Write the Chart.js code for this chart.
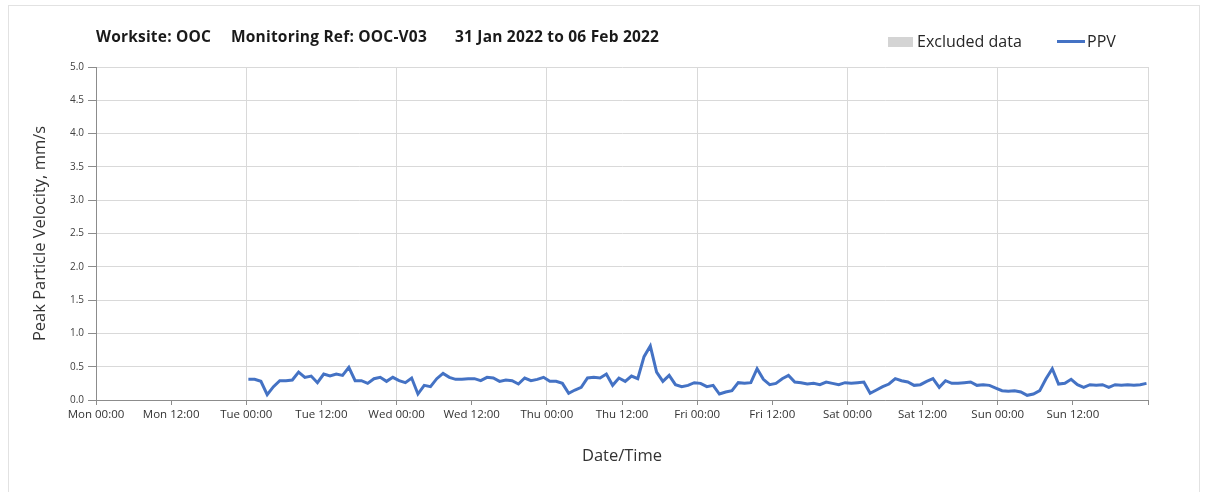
<!DOCTYPE html>
<html>
<head>
<meta charset="utf-8">
<script src="https://cdn.jsdelivr.net/npm/chart.js@4.4.1/dist/chart.umd.min.js"></script>
<style>
  html, body { margin: 0; padding: 0; background: #fff; }
  #wrap { position: relative; width: 1208px; height: 492px; overflow: hidden; font-family: "Open Sans", sans-serif; }
  #frame { position: absolute; left: 8px; top: 5px; width: 1192px; height: 540px; border: 1px solid #e2e2e2; box-sizing: border-box; }
  canvas { position: absolute; left: 0; top: 0; }
  .ttl { position: absolute; top: 26px; font-weight: bold; font-size: 15.5px; line-height: 20px; color: #1a1a1a; white-space: nowrap; letter-spacing: 0.2px; }
  .lg { position: absolute; top: 31px; font-size: 16px; line-height: 20px; color: #262626; white-space: nowrap; }
  .swatch-box { position: absolute; left: 888px; top: 37px; width: 25px; height: 10px; background: #d4d4d4; }
  .swatch-line { position: absolute; left: 1057px; top: 40px; width: 28px; height: 3px; background: #4472C4; }
</style>
</head>
<body>
<div id="wrap">
  <div id="frame"></div>
  <canvas id="chart" width="1208" height="492"></canvas>
  <div class="ttl" style="left:96px">Worksite: OOC</div>
  <div class="ttl" style="left:231px">Monitoring Ref: OOC-V03</div>
  <div class="ttl" style="left:455px">31 Jan 2022 to 06 Feb 2022</div>
  <div class="swatch-box"></div>
  <div class="lg" style="left:917px">Excluded data</div>
  <div class="swatch-line"></div>
  <div class="lg" style="left:1087px">PPV</div>
</div>
<script>
// Axis tick labels, one every 12 hours from Mon 00:00
const xTickLabels = [
  'Mon 00:00', 'Mon 12:00', 'Tue 00:00', 'Tue 12:00', 'Wed 00:00', 'Wed 12:00',
  'Thu 00:00', 'Thu 12:00', 'Fri 00:00', 'Fri 12:00', 'Sat 00:00', 'Sat 12:00',
  'Sun 00:00', 'Sun 12:00'
];
const yTickValues = [0, 0.5, 1, 1.5, 2, 2.5, 3, 3.5, 4, 4.5, 5];

// Hourly PPV readings (mm/s), first reading Tue 00:20
const firstReadingHour = 24.33;
const ppv = [
  0.31, 0.31, 0.28, 0.08, 0.20, 0.29, 0.29, 0.30, 0.42, 0.34,
  0.36, 0.26, 0.39, 0.36, 0.39, 0.37, 0.49, 0.29, 0.29, 0.25,
  0.32, 0.34, 0.28, 0.34, 0.29, 0.26, 0.33, 0.09, 0.22, 0.20,
  0.32, 0.40, 0.34, 0.31, 0.31, 0.32, 0.32, 0.29, 0.34, 0.33,
  0.28, 0.30, 0.29, 0.24, 0.33, 0.29, 0.31, 0.34, 0.28, 0.28,
  0.25, 0.10, 0.15, 0.19, 0.33, 0.34, 0.33, 0.39, 0.22, 0.33,
  0.28, 0.36, 0.32, 0.65, 0.81, 0.42, 0.28, 0.37, 0.23, 0.20,
  0.22, 0.26, 0.25, 0.20, 0.22, 0.09, 0.12, 0.14, 0.26, 0.25,
  0.26, 0.47, 0.31, 0.23, 0.25, 0.32, 0.37, 0.27, 0.26, 0.24,
  0.25, 0.23, 0.27, 0.25, 0.23, 0.26, 0.25, 0.26, 0.27, 0.10,
  0.15, 0.20, 0.24, 0.32, 0.29, 0.27, 0.22, 0.23, 0.28, 0.32,
  0.19, 0.29, 0.25, 0.25, 0.26, 0.27, 0.22, 0.23, 0.22, 0.18,
  0.14, 0.13, 0.14, 0.12, 0.07, 0.09, 0.14, 0.32, 0.47, 0.24,
  0.25, 0.31, 0.23, 0.19, 0.23, 0.22, 0.23, 0.19, 0.23, 0.22,
  0.23, 0.22, 0.23, 0.25
];

// Readings are logged every 60 min 10 s
const readingStepHours = 1.003;
const points = ppv.map((v, i) => ({ x: firstReadingHour + i * readingStepHours, y: v }));

const axisGrey = '#8c8c8c';
const gridGrey = '#d9d9d9';

new Chart(document.getElementById('chart'), {
  type: 'line',
  data: {
    datasets: [{
      label: 'PPV',
      data: points,
      borderColor: '#4472C4',
      borderWidth: 3,
      pointRadius: 0,
      tension: 0,
      fill: false
    }]
  },
  options: {
    responsive: false,
    animation: false,
    layout: { padding: { left: 26, right: 60, top: 67, bottom: 22 } },
    plugins: { legend: { display: false }, tooltip: { enabled: false } },
    scales: {
      x: {
        type: 'linear',
        min: 0,
        max: 168,
        afterBuildTicks: (s) => { s.ticks = xTickLabels.map((_, i) => ({ value: i * 12 })).concat([{ value: 168 }]); },
        ticks: {
          autoSkip: false,
          maxRotation: 0,
          minRotation: 0,
          padding: 3,
          color: '#333',
          font: { family: 'Open Sans', size: 11.5 },
          callback: (v) => xTickLabels[Math.round(v / 12)] || ''
        },
        grid: {
          color: (c) => (c.tick && c.tick.value % 24 === 0) ? gridGrey : 'rgba(0,0,0,0)',
          tickColor: axisGrey,
          tickLength: 5
        },
        border: { color: axisGrey, width: 1 },
        title: {
          display: true,
          text: 'Date/Time',
          color: '#333',
          font: { family: 'Open Sans', size: 16.5 }
        },
        afterFit: (s) => { s.height = 70; }
      },
      y: {
        min: 0,
        max: 5,
        afterBuildTicks: (s) => { s.ticks = yTickValues.map(v => ({ value: v })); },
        ticks: {
          padding: 4,
          color: '#404040',
          font: { family: 'Open Sans', size: 10 },
          callback: (v) => Number(v).toFixed(1)
        },
        grid: { color: gridGrey, tickColor: axisGrey, tickLength: 8 },
        border: { color: axisGrey, width: 1 },
        title: {
          display: true,
          text: 'Peak Particle Velocity, mm/s',
          color: '#333',
          font: { family: 'Open Sans', size: 16.5 }
        },
        afterFit: (s) => { s.width = 70; }
      }
    }
  }
});
</script>
</body>
</html>
